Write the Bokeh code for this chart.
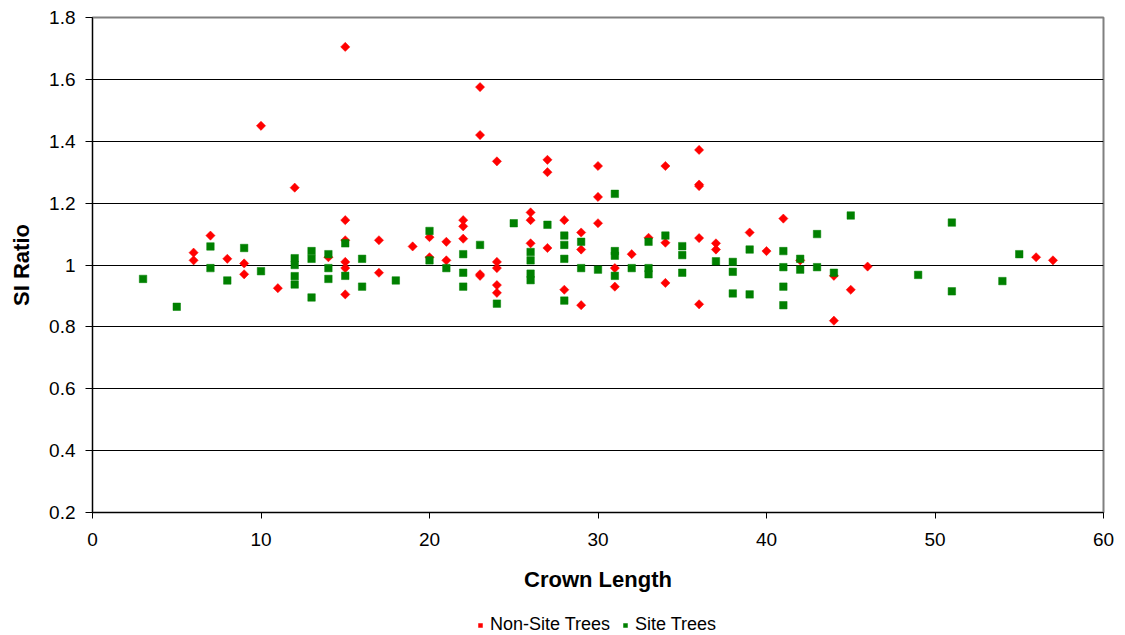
from bokeh.plotting import figure
from bokeh.layouts import column
from bokeh.models import (ColumnDataSource, Range1d, FixedTicker, Legend, LegendItem)
from bokeh.embed import file_html
from bokeh.resources import INLINE
import math

# ---- data ----
non_site_x = [6, 6, 7, 8, 9, 9, 10, 11, 12, 14,
              15, 15, 15, 15, 15, 15, 17, 17, 19, 20, 20, 21, 21,
              22, 22, 22, 23, 23, 23, 23, 24, 24, 24, 24, 24,
              26, 26, 26, 27, 27, 27, 28, 28, 29, 29, 29,
              30, 30, 30, 31, 31, 32, 33, 34, 34, 34,
              36, 36, 36, 36, 36, 37, 37, 39, 40, 41, 42,
              44, 44, 45, 46, 56, 57]
non_site_y = [1.04, 1.015, 1.095, 1.02, 1.005, 0.97, 1.45, 0.925, 1.25, 1.025,
              1.705, 1.145, 1.08, 1.01, 0.99, 0.905, 1.08, 0.975, 1.06, 1.09, 1.025, 1.075, 1.015,
              1.145, 1.125, 1.085, 1.575, 1.42, 0.97, 0.965, 1.335, 1.01, 0.99, 0.935, 0.91,
              1.17, 1.145, 1.07, 1.34, 1.30, 1.055, 1.145, 0.92, 1.105, 1.05, 0.87,
              1.32, 1.22, 1.135, 0.99, 0.93, 1.035, 1.088, 1.32, 1.072, 0.942,
              1.372, 1.26, 1.255, 1.087, 0.873, 1.07, 1.05, 1.105, 1.045, 1.15, 1.015,
              0.965, 0.82, 0.92, 0.995, 1.025, 1.015]

site_x = [3, 5, 7, 7, 8, 9, 10, 12, 12, 12, 12, 13, 13, 13, 14, 14, 14,
          15, 15, 16, 16, 18, 20, 20, 21, 22, 22, 22, 23, 24, 25,
          26, 26, 26, 26, 27, 28, 28, 28, 28, 29, 29, 30,
          31, 31, 31, 31, 32, 33, 33, 33, 34, 35, 35, 35,
          37, 38, 38, 38, 39, 39, 41, 41, 41, 41, 42, 42, 43, 43,
          44, 45, 49, 51, 51, 54, 55]
site_y = [0.955, 0.865, 1.06, 0.99, 0.95, 1.055, 0.98, 1.022, 1.0, 0.964, 0.937,
          1.045, 1.02, 0.895, 1.035, 0.99, 0.955,
          1.07, 0.965, 1.02, 0.93, 0.95, 1.11, 1.015, 0.99, 1.035, 0.975, 0.93, 1.065, 0.875, 1.135,
          1.042, 1.015, 0.972, 0.951, 1.13, 1.095, 1.065, 1.02, 0.885, 1.075, 0.99, 0.985,
          1.23, 1.045, 1.03, 0.965, 0.99, 1.075, 0.99, 0.97, 1.095, 1.061, 1.032, 0.975,
          1.012, 1.01, 0.978, 0.908, 1.05, 0.905, 1.045, 0.993, 0.93, 0.87, 1.02, 0.985, 1.10, 0.993,
          0.975, 1.16, 0.968, 1.137, 0.915, 0.948, 1.035]

series_names = ["Non-Site Trees", "Site Trees"]
x_ticks = [0, 10, 20, 30, 40, 50, 60]
y_ticks = [0.2, 0.4, 0.6, 0.8, 1.0, 1.2, 1.4, 1.6, 1.8]
y_tick_labels = ["0.2", "0.4", "0.6", "0.8", "1", "1.2", "1.4", "1.6", "1.8"]
x_title = "Crown Length"
y_title = "SI Ratio"

FONT = "Liberation Sans"
RED = "#FF0000"
GREEN = "#008000"

p = figure(width=1125, height=608,
           x_range=Range1d(0, 60), y_range=Range1d(0.2, 1.8),
           min_border_left=92, min_border_right=22,
           min_border_top=17, min_border_bottom=96,
           output_backend="svg", toolbar_location=None)
p.background_fill_color = "white"
p.border_fill_color = "white"
p.outline_line_color = "#808080"
p.outline_line_width = 2

src_ns = ColumnDataSource(dict(x=non_site_x, y=non_site_y))
src_s = ColumnDataSource(dict(x=site_x, y=site_y))

ns_style = dict(marker="square", angle=math.pi / 4, size=6.5,
                fill_color=RED, line_color=RED, line_width=0.5)
s_style = dict(marker="square", size=7.5,
               fill_color=GREEN, line_color=GREEN, line_width=0.5)

p.scatter("x", "y", source=src_ns, **ns_style)
p.scatter("x", "y", source=src_s, **s_style)

# grid
p.xgrid.visible = False
p.ygrid.ticker = FixedTicker(ticks=y_ticks)
p.ygrid.grid_line_color = "black"
p.ygrid.grid_line_width = 1

# axes
p.xaxis.ticker = FixedTicker(ticks=x_ticks)
p.yaxis.ticker = FixedTicker(ticks=y_ticks)
p.yaxis.major_label_overrides = {t: l for t, l in zip(y_ticks, y_tick_labels)}
for ax in (p.xaxis[0], p.yaxis[0]):
    ax.axis_line_color = "black"
    ax.axis_line_width = 1
    ax.major_tick_line_color = "black"
    ax.major_tick_in = 0
    ax.minor_tick_line_color = None
    ax.major_label_text_font = FONT
    ax.major_label_text_font_size = "19px"
    ax.major_label_text_color = "black"
    ax.axis_label_text_font = FONT
    ax.axis_label_text_font_size = "22px"
    ax.axis_label_text_font_style = "bold"
    ax.axis_label_text_color = "black"
p.xaxis.major_tick_out = 6
p.yaxis.major_tick_out = 7
p.xaxis.major_label_standoff = 14
p.yaxis.major_label_standoff = 10
p.xaxis.axis_label = x_title
p.yaxis.axis_label = y_title
p.xaxis.axis_label_standoff = 18
p.yaxis.axis_label_standoff = 12

# ---- legend strip under the chart ----
q = figure(width=1125, height=27, x_range=Range1d(0, 1), y_range=Range1d(0, 1),
           min_border_left=0, min_border_right=0, min_border_top=0, min_border_bottom=0,
           x_axis_type=None, y_axis_type=None,
           output_backend="svg", toolbar_location=None)
q.xgrid.visible = False
q.ygrid.visible = False
q.outline_line_color = None
q.background_fill_color = "white"
q.border_fill_color = "white"
# one off-range point each, so that the legend has a glyph to draw
lg_ns = q.scatter(x=[-10], y=[-10], **ns_style)
lg_s = q.scatter(x=[-10], y=[-10], **s_style)

legend = Legend(items=[LegendItem(label=series_names[0], renderers=[lg_ns], index=0),
                       LegendItem(label=series_names[1], renderers=[lg_s], index=0)],
                location=(383, 0), orientation="horizontal",
                label_text_font=FONT, label_text_font_size="18px",
                label_text_color="black",
                border_line_alpha=0, background_fill_alpha=0,
                padding=0, margin=0, spacing=10,
                glyph_width=10, glyph_height=12, label_standoff=5,
                label_height=18)
q.add_layout(legend)

layout = column(p, q, spacing=0)
open("out.html", "w").write(file_html(layout, INLINE))
